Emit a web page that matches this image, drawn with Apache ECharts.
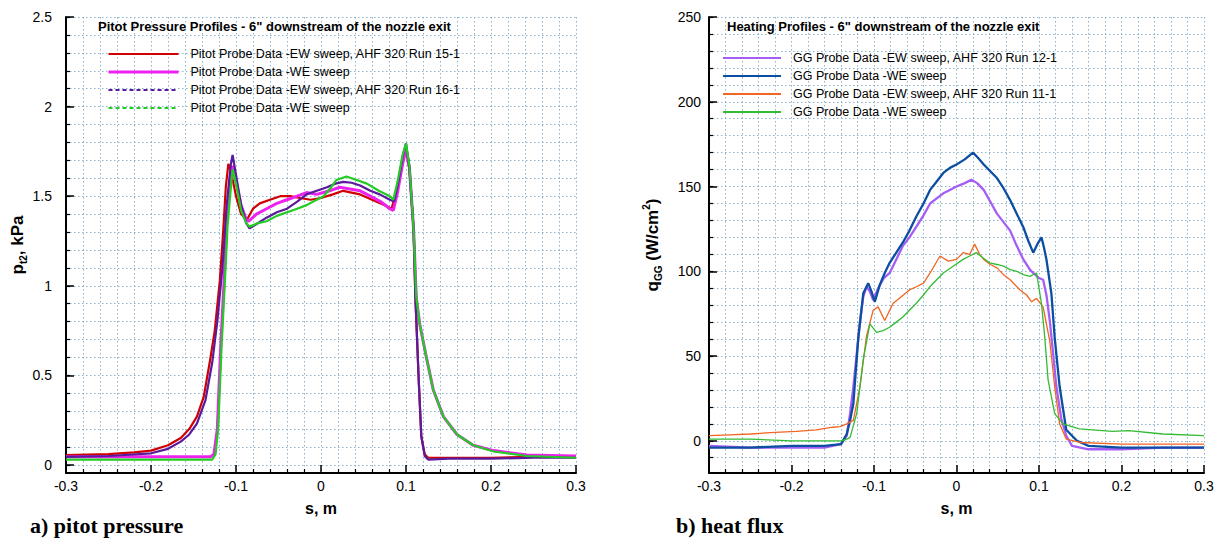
<!DOCTYPE html>
<html>
<head>
<meta charset="utf-8">
<script src="https://cdn.jsdelivr.net/npm/echarts@6/dist/echarts.min.js"></script>
<style>
html,body{margin:0;padding:0;background:#fff;}
#chart{width:1217px;height:546px;}
</style>
</head>
<body>
<div id="chart"></div>
<script>
// ---------- tick labels ----------
const xTicks = [-0.3, -0.2, -0.1, 0, 0.1, 0.2, 0.3];
const leftYTicks = [0, 0.5, 1, 1.5, 2, 2.5];
const rightYTicks = [0, 50, 100, 150, 200, 250];

// ---------- legend / titles ----------
const leftTitle = 'Pitot Pressure Profiles - 6" downstream of the nozzle exit';
const rightTitle = 'Heating Profiles - 6" downstream of the nozzle exit';
const leftNames = ['Pitot Probe Data -EW sweep, AHF 320 Run 15-1', 'Pitot Probe Data -WE sweep', 'Pitot Probe Data -EW sweep, AHF 320 Run 16-1', 'Pitot Probe Data -WE sweep '];
const rightNames = ['GG Probe Data -EW sweep, AHF 320 Run 12-1', 'GG Probe Data -WE sweep', 'GG Probe Data -EW sweep, AHF 320 Run 11-1', 'GG Probe Data -WE sweep '];

// ---------- left chart: pitot pressure (kPa) vs s (m) ----------
const redS = [-0.3,-0.25,-0.22,-0.2,-0.18,-0.165,-0.155,-0.146,-0.138,-0.131,-0.125,-0.119,-0.115,-0.112,-0.109,-0.106,-0.1,-0.094,-0.087,-0.08,-0.072,-0.06,-0.048,-0.036,-0.025,-0.012,0,0.014,0.026,0.036,0.046,0.06,0.075,0.083,0.09,0.096,0.1,0.104,0.109,0.111,0.115,0.118,0.122,0.126,0.15,0.2,0.25,0.3];
const redV = [0.055,0.06,0.07,0.08,0.11,0.15,0.2,0.27,0.38,0.57,0.75,1.03,1.31,1.55,1.68,1.64,1.5,1.4,1.37,1.43,1.46,1.48,1.5,1.5,1.49,1.48,1.49,1.51,1.53,1.52,1.51,1.48,1.45,1.43,1.55,1.7,1.77,1.65,1.31,0.94,0.47,0.16,0.06,0.04,0.04,0.04,0.045,0.05];

const magS = [-0.3,-0.2,-0.13,-0.126,-0.122,-0.118,-0.114,-0.111,-0.107,-0.104,-0.1,-0.094,-0.088,-0.085,-0.076,-0.064,-0.052,-0.04,-0.028,-0.017,-0.005,0.01,0.022,0.034,0.046,0.058,0.07,0.081,0.085,0.09,0.096,0.1,0.104,0.109,0.112,0.116,0.124,0.132,0.144,0.16,0.179,0.203,0.242,0.3];
const magV = [0.045,0.045,0.045,0.06,0.2,0.66,1.03,1.35,1.6,1.67,1.58,1.45,1.37,1.36,1.4,1.43,1.46,1.48,1.5,1.52,1.51,1.53,1.55,1.54,1.53,1.5,1.47,1.43,1.42,1.52,1.68,1.76,1.66,1.31,0.94,0.79,0.6,0.42,0.27,0.17,0.11,0.08,0.055,0.05];

const purS = [-0.3,-0.25,-0.2,-0.18,-0.165,-0.155,-0.146,-0.136,-0.128,-0.122,-0.116,-0.111,-0.106,-0.104,-0.1,-0.094,-0.088,-0.084,-0.074,-0.064,-0.052,-0.04,-0.028,-0.017,-0.005,0.007,0.017,0.026,0.036,0.046,0.058,0.069,0.081,0.086,0.091,0.096,0.1,0.104,0.109,0.111,0.115,0.118,0.122,0.126,0.15,0.2,0.25,0.3];
const purV = [0.045,0.05,0.065,0.09,0.13,0.17,0.23,0.36,0.57,0.8,1.1,1.45,1.68,1.73,1.62,1.45,1.35,1.32,1.35,1.38,1.41,1.43,1.47,1.51,1.53,1.55,1.57,1.58,1.575,1.56,1.53,1.51,1.48,1.47,1.58,1.72,1.795,1.66,1.31,0.94,0.47,0.16,0.05,0.03,0.035,0.035,0.04,0.04];

const grnS = [-0.3,-0.2,-0.128,-0.124,-0.121,-0.117,-0.113,-0.11,-0.106,-0.104,-0.1,-0.094,-0.088,-0.084,-0.074,-0.064,-0.052,-0.04,-0.028,-0.017,-0.005,0.003,0.012,0.018,0.03,0.042,0.054,0.068,0.081,0.085,0.09,0.096,0.1,0.104,0.109,0.112,0.116,0.124,0.132,0.144,0.16,0.179,0.203,0.242,0.3];
const grnV = [0.03,0.03,0.03,0.06,0.2,0.66,1.03,1.33,1.55,1.65,1.57,1.42,1.35,1.33,1.35,1.36,1.39,1.41,1.43,1.45,1.48,1.5,1.55,1.59,1.61,1.59,1.57,1.53,1.5,1.48,1.58,1.73,1.795,1.67,1.31,0.94,0.79,0.6,0.42,0.27,0.17,0.11,0.075,0.05,0.04];

// ---------- right chart: heat flux (W/cm^2) vs s (m) ----------
const gPurS = [-0.3,-0.25,-0.2,-0.16,-0.14,-0.133,-0.129,-0.125,-0.121,-0.117,-0.113,-0.109,-0.105,-0.101,-0.095,-0.088,-0.081,-0.073,-0.065,-0.057,-0.049,-0.04,-0.032,-0.024,-0.016,-0.008,0,0.01,0.018,0.025,0.033,0.041,0.049,0.057,0.065,0.073,0.081,0.089,0.093,0.1,0.105,0.109,0.113,0.117,0.121,0.127,0.133,0.14,0.16,0.2,0.25,0.3];
const gPurV = [-3,-4,-4,-4,-2,3,16,32,51,70,85,91,88,83,90,96,99,107,115,120,126,133,140,143,146,148,150,152,154,152,148,141,134,129,124,115,107,101,99,96,95,86,71,52,32,13,3,-3,-5,-5,-4,-4];

const gBluS = [-0.3,-0.25,-0.2,-0.16,-0.14,-0.133,-0.129,-0.125,-0.119,-0.113,-0.107,-0.103,-0.099,-0.093,-0.087,-0.081,-0.073,-0.065,-0.057,-0.049,-0.04,-0.032,-0.024,-0.016,-0.008,0,0.01,0.02,0.026,0.033,0.041,0.049,0.057,0.065,0.073,0.081,0.087,0.093,0.098,0.103,0.106,0.109,0.115,0.119,0.125,0.133,0.146,0.16,0.2,0.25,0.3];
const gBluV = [-4,-4,-3,-3,-2,4,12,22,61,87,93,88,82,92,99,105,111,117,124,132,140,148,153,158,161,163,166,170,167,163,159,155,149,142,134,126,118,111,116,120,114,107,87,61,32,6.5,0,-3,-4,-4,-4];

const gOrgS = [-0.3,-0.275,-0.25,-0.22,-0.194,-0.17,-0.15,-0.141,-0.133,-0.125,-0.117,-0.109,-0.101,-0.095,-0.087,-0.077,-0.067,-0.057,-0.048,-0.04,-0.032,-0.02,-0.01,0,0.008,0.016,0.022,0.028,0.033,0.041,0.049,0.057,0.065,0.077,0.085,0.091,0.097,0.105,0.113,0.119,0.125,0.133,0.15,0.2,0.25,0.3];
const gOrgV = [3,3.5,4,5,5.5,6.5,8,8.4,10,12,32,62,77,79,71,81,85,89,91,93,99,109,106,107,111,110,116,110,107,104,102,98,95,89,86,82,84,79,59,32,10,1,-1,-2,-2,-2];

const gGrnS = [-0.3,-0.25,-0.2,-0.16,-0.14,-0.133,-0.129,-0.121,-0.113,-0.105,-0.097,-0.089,-0.081,-0.073,-0.065,-0.057,-0.049,-0.04,-0.032,-0.024,-0.016,-0.004,0.008,0.016,0.024,0.032,0.04,0.049,0.057,0.065,0.073,0.081,0.089,0.097,0.103,0.107,0.111,0.119,0.129,0.149,0.189,0.209,0.25,0.3];
const gGrnV = [1,1,0,0,0,1,2,16,48,69,64,65,67,70,73,77,81,86,91,95,99,103,107,109,111,108,105,104,103,101,100,98,97,99,81,61,36,16,10,7,5.5,6,4,3];

// ---------- helpers ----------
function pairs(s, v) { return s.map((x, i) => [x, v[i]]); }
function steps(a, b, d) { const out = []; for (let k = 0; a + k * d <= b + 1e-9; k++) out.push(+(a + k * d).toFixed(4)); return out; }

const GRIDC = '#8cb4cc';
const FONT = "'Liberation Sans', Arial, sans-serif";
const dotted = { show: true, lineStyle: { color: GRIDC, type: [1.5, 2.5], width: 1 } };

function makeX(gridIndex) {
  return {
    type: 'value', gridIndex, min: -0.3, max: 0.3, interval: 0.1,
    name: 's, m', nameLocation: 'middle', nameGap: 27,
    nameTextStyle: { fontFamily: FONT, fontWeight: 'bold', fontSize: 16, color: '#000' },
    axisLine: { show: true, onZero: false, lineStyle: { color: '#000', width: 2 } },
    axisTick: { show: true, inside: true, length: 8, lineStyle: { color: '#000', width: 1.5 } },
    minorTick: { show: true, splitNumber: 5, length: 4, lineStyle: { color: '#000', width: 1.2 } },
    splitLine: dotted, minorSplitLine: dotted,
    axisLabel: { fontFamily: FONT, fontSize: 14, color: '#000', margin: 6,
      formatter: v => { const t = xTicks.find(q => Math.abs(q - v) < 1e-6); return t === undefined ? '' : String(t); } }
  };
}

const leftMinor = steps(0, 2.5, 0.1);
const rightMinor = steps(-10, 250, 10);

const legendText = { fontFamily: FONT, fontSize: 12.5, lineHeight: 14, color: '#000', padding: [0, 0, 0, 7] };

const option = {
  backgroundColor: '#fff',
  animation: false,
  title: [
    { text: leftTitle, left: 98, top: 20, padding: 0, textStyle: { fontFamily: FONT, fontWeight: 'bold', fontSize: 13, color: '#000' } },
    { text: rightTitle, left: 727, top: 20, padding: 0, textStyle: { fontFamily: FONT, fontWeight: 'bold', fontSize: 13, color: '#000' } },
    { text: 'a) pitot pressure', left: 30, top: 514, padding: 0, textStyle: { fontFamily: "'Liberation Serif', 'Times New Roman', serif", fontWeight: 'bold', fontSize: 22, color: '#000' } },
    { text: 'b) heat flux', left: 676, top: 514, padding: 0, textStyle: { fontFamily: "'Liberation Serif', 'Times New Roman', serif", fontWeight: 'bold', fontSize: 22, color: '#000' } }
  ],
  legend: [
    { orient: 'vertical', left: 107, top: 47, padding: 0, itemWidth: 70, itemHeight: 14, itemGap: 4,
      itemStyle: { opacity: 0 },
      textStyle: legendText,
      data: [
        { name: leftNames[0], lineStyle: { width: 2 } },
        { name: leftNames[1], lineStyle: { width: 3 } },
        { name: leftNames[2], lineStyle: { width: 2, type: [4, 3] } },
        { name: leftNames[3], lineStyle: { width: 2, type: [4, 3] } }
      ] },
    { orient: 'vertical', left: 722, top: 51, padding: 0, itemWidth: 58, itemHeight: 14, itemGap: 4,
      itemStyle: { opacity: 0 },
      textStyle: legendText,
      data: rightNames.map(n => ({ name: n, lineStyle: { width: 2 } })) }
  ],
  grid: [
    { left: 66, top: 17, width: 510, height: 456, containLabel: false },
    { left: 709, top: 17, width: 495, height: 456, containLabel: false }
  ],
  xAxis: [makeX(0), makeX(1)],
  yAxis: [
    { type: 'value', gridIndex: 0, min: -0.045, max: 2.5, position: 'left',
      name: '{a|p}{b|t2}{a|, kPa}', nameLocation: 'middle', nameGap: 34, nameRotate: 90,
      nameTextStyle: { rich: {
        a: { fontFamily: FONT, fontWeight: 'bold', fontSize: 17, color: '#000', lineHeight: 22 },
        b: { fontFamily: FONT, fontWeight: 'bold', fontSize: 10, color: '#000', verticalAlign: 'bottom', lineHeight: 14 } } },
      axisLine: { show: true, onZero: false, lineStyle: { color: '#000', width: 2 } },
      axisTick: { show: true, inside: true, length: 8, customValues: leftYTicks, lineStyle: { color: '#000', width: 1.5 } },
      axisLabel: { fontFamily: FONT, fontSize: 14, color: '#000', margin: 14, customValues: leftYTicks },
      splitLine: { show: false } },
    { type: 'value', gridIndex: 0, min: -0.045, max: 2.5, position: 'left', offset: 0, splitNumber: 25,
      axisLine: { show: false, onZero: false },
      axisTick: { show: true, inside: true, length: 4, customValues: leftMinor, lineStyle: { color: '#000', width: 1.2 } },
      axisLabel: { show: false },
      splitLine: dotted },
    { type: 'value', gridIndex: 1, min: -19, max: 250, position: 'left',
      name: '{a|q}{b|GG}{a| (W/cm}{c|2}{a|)}', nameLocation: 'middle', nameGap: 46, nameRotate: 90,
      nameTextStyle: { rich: {
        a: { fontFamily: FONT, fontWeight: 'bold', fontSize: 17, color: '#000', lineHeight: 22 },
        b: { fontFamily: FONT, fontWeight: 'bold', fontSize: 10, color: '#000', verticalAlign: 'bottom', lineHeight: 14 },
        c: { fontFamily: FONT, fontWeight: 'bold', fontSize: 10, color: '#000', verticalAlign: 'top', lineHeight: 14 } } },
      axisLine: { show: true, onZero: false, lineStyle: { color: '#000', width: 2 } },
      axisTick: { show: true, inside: true, length: 8, customValues: rightYTicks, lineStyle: { color: '#000', width: 1.5 } },
      axisLabel: { fontFamily: FONT, fontSize: 14, color: '#000', margin: 8, customValues: rightYTicks },
      splitLine: { show: false } },
    { type: 'value', gridIndex: 1, min: -19, max: 250, position: 'left', offset: 0, splitNumber: 27,
      axisLine: { show: false, onZero: false },
      axisTick: { show: true, inside: true, length: 4, customValues: rightMinor, lineStyle: { color: '#000', width: 1.2 } },
      axisLabel: { show: false },
      splitLine: dotted }
  ],
  series: [
    { name: leftNames[0], type: 'line', xAxisIndex: 0, yAxisIndex: 0, symbol: 'none', color: '#d00000', lineStyle: { width: 2.2 }, data: pairs(redS, redV) },
    { name: leftNames[1], type: 'line', xAxisIndex: 0, yAxisIndex: 0, symbol: 'none', color: '#ee22ee', lineStyle: { width: 3 }, data: pairs(magS, magV) },
    { name: leftNames[2], type: 'line', xAxisIndex: 0, yAxisIndex: 0, symbol: 'none', color: '#5a1a9e', lineStyle: { width: 2.2 }, data: pairs(purS, purV) },
    { name: leftNames[3], type: 'line', xAxisIndex: 0, yAxisIndex: 0, symbol: 'none', color: '#22cc22', lineStyle: { width: 2.2 }, data: pairs(grnS, grnV) },
    { name: rightNames[0], type: 'line', xAxisIndex: 1, yAxisIndex: 2, symbol: 'none', color: '#a55ef5', lineStyle: { width: 2.3 }, data: pairs(gPurS, gPurV) },
    { name: rightNames[1], type: 'line', xAxisIndex: 1, yAxisIndex: 2, symbol: 'none', color: '#0c4fa2', lineStyle: { width: 2.3 }, data: pairs(gBluS, gBluV) },
    { name: rightNames[2], type: 'line', xAxisIndex: 1, yAxisIndex: 2, symbol: 'none', color: '#f26522', lineStyle: { width: 1.3 }, data: pairs(gOrgS, gOrgV) },
    { name: rightNames[3], type: 'line', xAxisIndex: 1, yAxisIndex: 2, symbol: 'none', color: '#33bb33', lineStyle: { width: 1.3 }, data: pairs(gGrnS, gGrnV) }
  ]
};

const chart = echarts.init(document.getElementById('chart'), null, { renderer: 'svg' });
chart.setOption(option);
</script>
</body>
</html>
